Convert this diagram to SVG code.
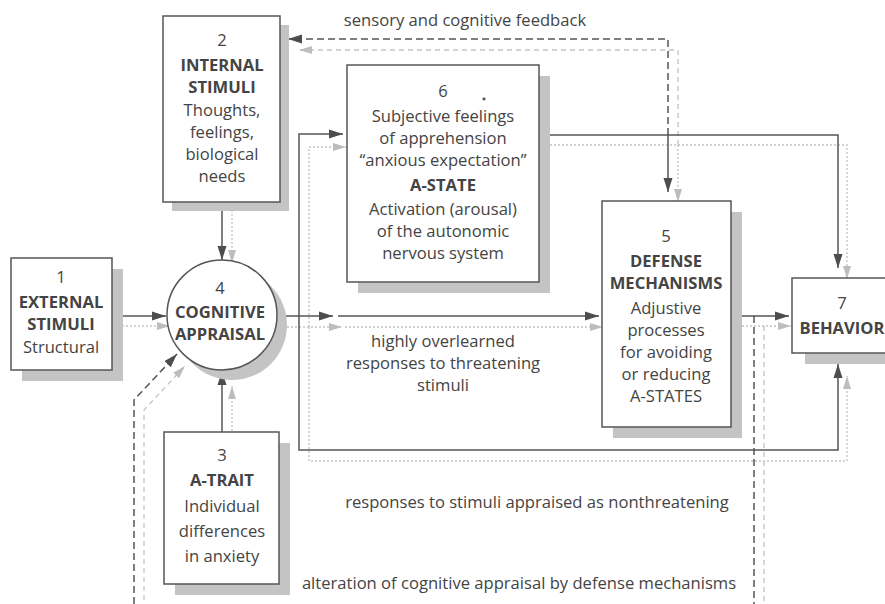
<svg xmlns="http://www.w3.org/2000/svg" width="885" height="604" viewBox="0 0 885 604">
<defs>
<marker id="ad" markerUnits="userSpaceOnUse" markerWidth="15" markerHeight="10" refX="14" refY="5" orient="auto"><path d="M0,0.5 L14,5 L0,9.5 z" fill="#4d4d4d"/></marker>
<marker id="al" markerUnits="userSpaceOnUse" markerWidth="15" markerHeight="10" refX="13" refY="5" orient="auto"><path d="M0,1 L13,5 L0,9 z" fill="#bdbdbd"/></marker>
</defs>
<style>
.sh{fill:#c4c4c4}
.bx{fill:#fff;stroke:#555;stroke-width:1.5}
text{font-family:"Open Sans","Noto Sans",sans-serif;font-size:16.6px;fill:#444;text-anchor:middle}
.b{font-weight:bold}
.d{fill:none;stroke:#555;stroke-width:1.5}
.l{fill:none;stroke:#c2c2c2;stroke-width:1.3;stroke-dasharray:2 2}
.dd{fill:none;stroke:#555;stroke-width:1.5;stroke-dasharray:7 4}
.ld{fill:none;stroke:#c2c2c2;stroke-width:1.3;stroke-dasharray:5 4}
</style>
<rect width="885" height="604" fill="#fff"/>

<g id="connectors">
<!-- light (offset) lines -->
<path class="l" d="M122 326 H170" marker-end="url(#al)"/>
<path class="l" d="M232 210 V263" marker-end="url(#al)"/>
<path class="l" d="M232 443 V386" marker-end="url(#al)"/>
<path class="l" d="M283 327 H342" marker-end="url(#al)"/>
<path class="l" d="M345 327 H603" marker-end="url(#al)"/>
<path class="l" d="M309 327 V147 H346" marker-end="url(#al)"/>
<path class="l" d="M309 327 V461 H847 V376" marker-end="url(#al)"/>
<path class="l" d="M550 145 H847 V279" marker-end="url(#al)"/>
<path class="l" d="M678 145 V202" marker-end="url(#al)"/>
<path class="l" d="M742 326 H791" marker-end="url(#al)"/>
<path class="ld" d="M678 145 V50 H299" marker-end="url(#al)"/>
<path class="ld" d="M764 326 V612 H144 V410 L185 366" marker-end="url(#al)"/>
<!-- dark lines -->
<path class="d" d="M112 316 H166" marker-end="url(#ad)"/>
<path class="d" d="M222 202 V260" marker-end="url(#ad)"/>
<path class="d" d="M222 432 V371" marker-end="url(#ad)"/>
<path class="d" d="M277 316 H333" marker-end="url(#ad)"/>
<path class="d" d="M338 316 H599" marker-end="url(#ad)"/>
<path class="d" d="M299 316 V134 H343" marker-end="url(#ad)"/>
<path class="d" d="M299 316 V450 H838 V364" marker-end="url(#ad)"/>
<path class="d" d="M539 135 H838 V268" marker-end="url(#ad)"/>
<path class="d" d="M668 135 V192" marker-end="url(#ad)"/>
<path class="d" d="M731 316 H789" marker-end="url(#ad)"/>
<path class="dd" d="M668 135 V39 H288" marker-end="url(#ad)"/>
<path class="dd" d="M754 316 V612 H134 V400 L177 354" marker-end="url(#ad)"/>
</g>

<g id="node1">
<rect class="sh" x="22" y="269" width="101" height="112"/>
<rect class="bx" x="11" y="258" width="101" height="112"/>
<text x="61" y="283">1</text>
<text class="b" x="61" y="308">EXTERNAL</text>
<text class="b" x="61" y="330">STIMULI</text>
<text x="61" y="353">Structural</text>
</g>

<g id="node2">
<rect class="sh" x="172" y="25" width="117" height="186"/>
<rect class="bx" x="163" y="16" width="117" height="186"/>
<text x="222" y="46">2</text>
<text class="b" x="222" y="71">INTERNAL</text>
<text class="b" x="222" y="93">STIMULI</text>
<text x="222" y="116">Thoughts,</text>
<text x="222" y="138">feelings,</text>
<text x="222" y="160">biological</text>
<text x="222" y="182">needs</text>
</g>

<g id="node3">
<rect class="sh" x="175" y="443" width="115" height="152"/>
<rect class="bx" x="164" y="432" width="115" height="152"/>
<text x="222" y="461">3</text>
<text class="b" x="222" y="486">A-TRAIT</text>
<text x="222" y="512">Individual</text>
<text x="222" y="537">differences</text>
<text x="222" y="562">in anxiety</text>
</g>

<g id="node4">
<circle cx="232" cy="325" r="55" fill="#c4c4c4"/>
<circle cx="222" cy="315" r="55" fill="#fff" stroke="#555" stroke-width="1.5"/>
<text x="220" y="294">4</text>
<text class="b" x="220" y="318">COGNITIVE</text>
<text class="b" x="220" y="340">APPRAISAL</text>
</g>

<g id="node5">
<rect class="sh" x="613" y="212" width="129" height="226"/>
<rect class="bx" x="602" y="201" width="129" height="226"/>
<text x="666" y="242">5</text>
<text class="b" x="666" y="267">DEFENSE</text>
<text class="b" x="666" y="289">MECHANISMS</text>
<text x="666" y="314">Adjustive</text>
<text x="666" y="336">processes</text>
<text x="666" y="358">for avoiding</text>
<text x="666" y="380">or reducing</text>
<text x="666" y="402">A-STATES</text>
</g>

<g id="node6">
<rect class="sh" x="358" y="76" width="192" height="217"/>
<rect class="bx" x="347" y="65" width="192" height="217"/>
<ellipse cx="484" cy="99" rx="1.6" ry="1.4" fill="#555"/>
<text x="443" y="97">6</text>
<text x="443" y="122">Subjective feelings</text>
<text x="443" y="144">of apprehension</text>
<text x="443" y="166">“anxious expectation”</text>
<text class="b" x="443" y="191">A-STATE</text>
<text x="443" y="215">Activation (arousal)</text>
<text x="443" y="237">of the autonomic</text>
<text x="443" y="259">nervous system</text>
</g>

<g id="node7">
<rect class="sh" x="805" y="289" width="110" height="75"/>
<rect class="bx" x="792" y="278" width="110" height="75"/>
<text x="842" y="309">7</text>
<text class="b" x="842" y="334">BEHAVIOR</text>
</g>

<g id="labels">
<text x="465" y="26">sensory and cognitive feedback</text>
<text x="443" y="347">highly overlearned</text>
<text x="443" y="369">responses to threatening</text>
<text x="443" y="391">stimuli</text>
<text x="537" y="508">responses to stimuli appraised as nonthreatening</text>
<text x="519" y="589">alteration of cognitive appraisal by defense mechanisms</text>
</g>
</svg>
